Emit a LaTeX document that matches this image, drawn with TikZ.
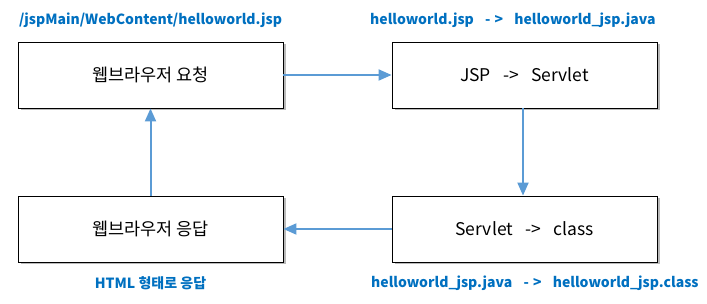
\documentclass[tikz,border=0pt]{standalone}
\usepackage{fontspec}
\setmainfont{Noto Sans CJK KR}
\usepackage{tikz}
\usetikzlibrary{arrows.meta, positioning, shadows}
\definecolor{arrowblue}{RGB}{91,155,213}
\definecolor{labelblue}{RGB}{0,112,192}
\tikzset{
  stage/.style={rectangle, draw=black, fill=white, line width=0.9pt,
    minimum width=265pt, minimum height=66pt, font=\fontsize{17.5}{20}\selectfont,
    drop shadow={shadow xshift=2.5pt, shadow yshift=-2.5pt, fill=black!45, opacity=0.6}},
  note/.style={font=\fontsize{14}{16}\selectfont\bfseries, text=labelblue, inner sep=0pt},
  flow/.style={-{Triangle[length=13pt,width=11pt]}, line width=2pt, color=arrowblue}
}

\begin{document}
\begin{tikzpicture}[x=1pt, y=-1pt]
  \useasboundingbox (0,0) rectangle (707,304);

  \node[stage] (req) at (150.5,75) {웹브라우저 요청};
  \node[stage] (jsp) at (524.5,75) {JSP\hspace{0.7em}->\hspace{0.7em}Servlet};
  \node[stage] (cls) at (524.5,229) {Servlet\hspace{0.7em}->\hspace{0.7em}class};
  \node[stage] (res) at (150.5,229) {웹브라우저 응답};

  \node[note] (path) at (150.5,20) {/jspMain/WebContent/helloworld.jsp};
  \node[note, anchor=west] (conv) at (370,20) {helloworld.jsp\hspace{0.8em}-\hspace{0.3em}>\hspace{0.8em}helloworld\_jsp.java};
  \node[note, anchor=west] (comp) at (371,283) {helloworld\_jsp.java\hspace{0.8em}-\hspace{0.3em}>\hspace{0.8em}helloworld\_jsp.class};
  \node[note] (html) at (150.5,283) {HTML 형태로 응답};

  \draw[flow] (req) -- (jsp);
  \draw[flow] (jsp.south -| 523,0) -- (cls.north -| 523,0);
  \draw[flow] (cls) -- (res);
  \draw[flow] (res) -- (req);

\end{tikzpicture}
\end{document}
